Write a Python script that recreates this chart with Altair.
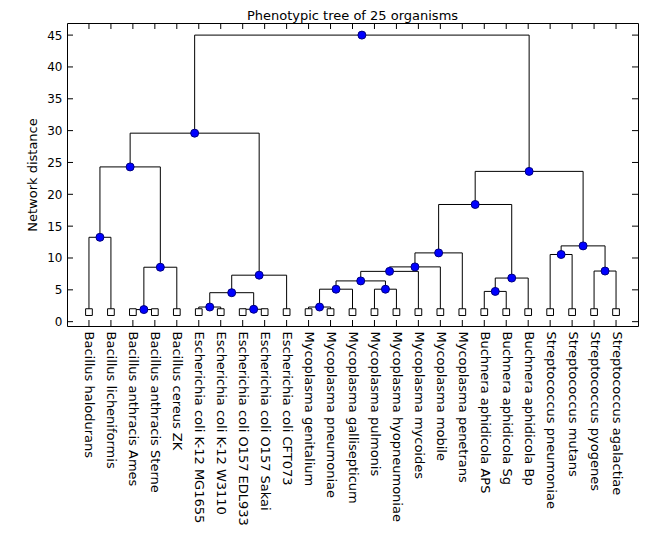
import json
import altair as alt
import pandas as pd

# ---------------- data ----------------
chart_title = "Phenotypic tree of 25 organisms"
leaves = [
    "Bacillus halodurans", "Bacillus licheniformis", "Bacillus anthracis Ames",
    "Bacillus anthracis Sterne", "Bacillus cereus ZK", "Escherichia coli K-12 MG1655",
    "Escherichia coli K-12 W3110", "Escherichia coli O157 EDL933", "Escherichia coli O157 Sakai",
    "Escherichia coli CFT073", "Mycoplasma genitalium", "Mycoplasma pneumoniae",
    "Mycoplasma gallisepticum", "Mycoplasma pulmonis", "Mycoplasma hyopneumoniae",
    "Mycoplasma mycoides", "Mycoplasma mobile", "Mycoplasma penetrans",
    "Buchnera aphidicola APS", "Buchnera aphidicola Sg", "Buchnera aphidicola Bp",
    "Streptococcus pneumoniae", "Streptococcus mutans", "Streptococcus pyogenes",
    "Streptococcus agalactiae",
]
leaf_height = 1.5
# linkage: node ids 0..24 are leaves, merge i creates node 25+i
merge_left = [0, 2, 26, 25, 5, 7, 29, 31, 28, 10, 34, 13, 35, 37, 38, 39, 18, 41, 40, 21, 23, 44, 43, 33]
merge_right = [1, 3, 4, 27, 6, 8, 30, 9, 32, 11, 12, 14, 36, 15, 16, 17, 19, 20, 42, 22, 24, 45, 46, 47]
merge_height = [13.25, 1.9, 8.55, 24.3, 2.3, 1.95, 4.55, 7.3, 29.6, 2.3, 5.1, 5.1, 6.4, 7.9,
                8.6, 10.8, 4.75, 6.85, 18.4, 10.55, 7.95, 11.9, 23.6, 45.0]
y_tick_values = [0, 5, 10, 15, 20, 25, 30, 35, 40, 45]

# ---------------- build tables ----------------
n = len(leaves)
pos = {i: i + 1 for i in range(n)}
hgt = {i: leaf_height for i in range(n)}
segs, nodes = [], []
for i, (l, r, h) in enumerate(zip(merge_left, merge_right, merge_height)):
    nid = n + i
    xl, xr = pos[l], pos[r]
    segs.append(dict(x=xl, x2=xr, y=h, y2=h))
    segs.append(dict(x=xl, x2=xl, y=hgt[l], y2=h))
    segs.append(dict(x=xr, x2=xr, y=hgt[r], y2=h))
    pos[nid] = (xl + xr) / 2
    hgt[nid] = h
    nodes.append(dict(x=pos[nid], y=h))

seg_df = pd.DataFrame(segs)
node_df = pd.DataFrame(nodes)
leaf_df = pd.DataFrame({"x": list(range(1, n + 1)), "y": [leaf_height] * n})
xt_df = pd.DataFrame({"v": list(range(1, n + 1))})
yt_df = pd.DataFrame({"v": y_tick_values})
title_df = pd.DataFrame({"t": [chart_title]})

W, H = 571, 303
FONT = "DejaVu Sans"
xs = alt.Scale(domain=[0, 26], nice=False, zero=False)
ys = alt.Scale(domain=[-0.68, 46.9], nice=False, zero=False)

label_expr = "[" + ",".join(json.dumps(s) for s in leaves) + "][datum.value - 1]"

x_axis = alt.Axis(values=list(range(1, n + 1)), labelExpr=label_expr, labelAngle=90,
                  labelAlign="left", labelBaseline="middle", labelOverlap=False,
                  labelLimit=400, labelPadding=5, labelFontSize=13, labelFont=FONT,
                  labelColor="black", ticks=False, domain=False, grid=False, title=None)
y_axis = alt.Axis(values=y_tick_values, labelFontSize=12, labelFont=FONT, labelColor="black",
                  labelOverlap=False, labelPadding=5, ticks=False, domain=False, grid=False,
                  title="Network distance", titleFontSize=13, titleFont=FONT,
                  titleFontWeight="normal", titleColor="black", titlePadding=7)

X = lambda f: alt.X(f, scale=xs, axis=x_axis, title=None)
Y = lambda f: alt.Y(f, scale=ys, axis=y_axis, title="Network distance")

lines = alt.Chart(seg_df).mark_rule(color="black", strokeWidth=1).encode(
    x=X("x:Q"), x2="x2:Q", y=Y("y:Q"), y2="y2:Q")

tick_bottom = alt.Chart(xt_df).mark_rule(color="black", strokeWidth=1).encode(
    x=X("v:Q"), y=alt.value(H), y2=alt.value(H - 6))
tick_top = alt.Chart(xt_df).mark_rule(color="black", strokeWidth=1).encode(
    x=X("v:Q"), y=alt.value(0), y2=alt.value(6))
tick_left = alt.Chart(yt_df).mark_rule(color="black", strokeWidth=1).encode(
    y=Y("v:Q"), x=alt.value(0), x2=alt.value(6))
tick_right = alt.Chart(yt_df).mark_rule(color="black", strokeWidth=1).encode(
    y=Y("v:Q"), x=alt.value(W), x2=alt.value(W - 6))

leaf_pts = alt.Chart(leaf_df).mark_point(shape="square", filled=True, fill="white",
                                          stroke="black", strokeWidth=1, size=45,
                                          opacity=1).encode(x=X("x:Q"), y=Y("y:Q"))

node_pts = alt.Chart(node_df).mark_point(shape="circle", filled=True, fill="#0000ff",
                                          stroke="#00007f", strokeWidth=1, size=64,
                                          opacity=1).encode(x=X("x:Q"), y=Y("y:Q"))

title_txt = alt.Chart(title_df).mark_text(font=FONT, fontSize=13, color="black",
                                          align="center", baseline="alphabetic").encode(
    text="t:N", x=alt.value(W / 2), y=alt.value(-3.5))

chart = alt.layer(
    lines, tick_bottom, tick_top, tick_left, tick_right, leaf_pts, node_pts, title_txt
).properties(
    width=W, height=H,
    autosize=alt.AutoSizeParams(type="none"),
    padding={"left": 59, "top": 15, "right": 20, "bottom": 212},
).configure(background="white").configure_view(stroke="black", strokeWidth=1)

chart.save("out.html", embed_options={"renderer": "svg", "actions": False})
